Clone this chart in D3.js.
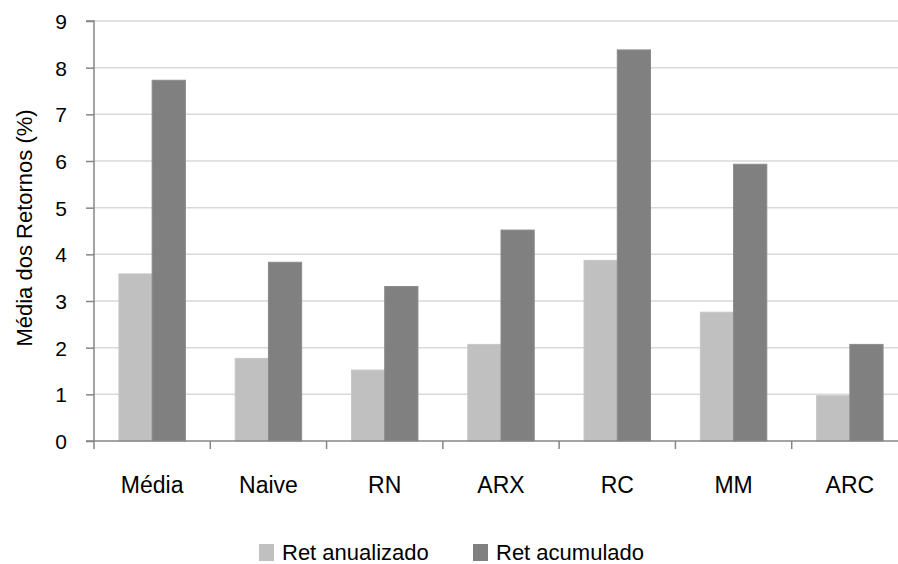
<!DOCTYPE html>
<html>
<head>
<meta charset="utf-8">
<script src="https://cdn.jsdelivr.net/npm/d3@7"></script>
<style>
  html, body { margin: 0; padding: 0; background: #fff; }
  svg { display: block; font-family: "Liberation Sans", Arial, sans-serif; }
</style>
</head>
<body>
<svg id="chart" width="898" height="564"></svg>
<script>
// Mean returns per model, in percent
const categories = ["Média", "Naive", "RN", "ARX", "RC", "MM", "ARC"];
const seriesNames = ["Ret anualizado", "Ret acumulado"];
const retAnualizado = [3.58, 1.77, 1.52, 2.07, 3.87, 2.76, 0.97];
const retAcumulado  = [7.73, 3.83, 3.31, 4.52, 8.38, 5.93, 2.07];
const yTicks = [0, 1, 2, 3, 4, 5, 6, 7, 8, 9];
const colors = ["#c0c0c0", "#808080"];

const svg = d3.select("#chart");
const plotLeft = 94, plotRight = 908, plotTop = 21, plotBottom = 441;
const fontFam = "Liberation Sans, Arial, sans-serif";

const x = d3.scaleBand().domain(categories).range([plotLeft, plotRight]).paddingInner(0).paddingOuter(0);
// Two bars per group with a 150% gap
const barW = x.bandwidth() / 3.5;
const xInner = d3.scaleBand().domain(seriesNames).range([0, barW * 2]);
const y = d3.scaleLinear().domain([0, 9]).range([plotBottom, plotTop]);

const plotG = svg.append("g");

// Horizontal gridlines
plotG.append("g")
  .selectAll("line")
  .data(yTicks.filter(d => d > 0))
  .join("line")
  .attr("x1", plotLeft).attr("x2", 898)
  .attr("y1", d => y(d)).attr("y2", d => y(d))
  .attr("stroke", "#d9d9d9").attr("stroke-width", 1.5);

// Bars
const rows = categories.map((c, i) => ({ cat: c, vals: [retAnualizado[i], retAcumulado[i]] }));
const groups = plotG.append("g")
  .selectAll("g")
  .data(rows)
  .join("g")
  .attr("transform", d => `translate(${x(d.cat) + (x.bandwidth() - barW * 2) / 2},0)`);

groups.selectAll("rect")
  .data(d => d.vals.map((v, k) => ({ name: seriesNames[k], v, k })))
  .join("rect")
  .attr("x", d => xInner(d.name))
  .attr("width", xInner.bandwidth())
  .attr("y", d => y(d.v))
  .attr("height", d => y(0) - y(d.v))
  .attr("fill", d => colors[d.k])
  .attr("stroke", d => d.k === 0 ? "#c6c6c6" : "#8a8a8a")
  .attr("stroke-width", 1);

// Y axis
const yAxis = d3.axisLeft(y).tickValues(yTicks).tickSize(8).tickPadding(19).tickFormat(d3.format("d"));
const gy = svg.append("g").attr("transform", `translate(${plotLeft},0)`).call(yAxis);
gy.select(".domain").attr("stroke", "#868686").attr("stroke-width", 1.5).attr("d", `M-8,${plotTop}H0V${plotBottom}H-8`);
gy.selectAll(".tick line").attr("stroke", "#868686").attr("stroke-width", 1.5);
gy.selectAll(".tick text").attr("font-size", 21).attr("fill", "#000").attr("font-family", fontFam).attr("dy", "0.36em");

// X axis with ticks on group boundaries
const gx = svg.append("g").attr("transform", `translate(0,${plotBottom})`);
gx.append("line").attr("x1", plotLeft).attr("x2", 898).attr("y1", 0).attr("y2", 0)
  .attr("stroke", "#868686").attr("stroke-width", 1.5);
gx.selectAll(".bound")
  .data(categories)
  .join("line")
  .attr("class", "bound")
  .attr("x1", d => x(d)).attr("x2", d => x(d))
  .attr("y1", 0).attr("y2", 8)
  .attr("stroke", "#868686").attr("stroke-width", 1.5);
gx.selectAll(".lbl")
  .data(categories)
  .join("text")
  .attr("class", "lbl")
  .attr("x", d => x(d) + x.bandwidth() / 2)
  .attr("y", 52)
  .attr("text-anchor", "middle")
  .attr("font-size", 23)
  .attr("fill", "#000")
  .text(d => d);

// Y axis title
svg.append("text")
  .attr("transform", `translate(32,${228}) rotate(-90)`)
  .attr("text-anchor", "middle")
  .attr("font-size", 22)
  .attr("fill", "#000")
  .text("Média dos Retornos (%)");

// Legend
const legendItems = [{ name: seriesNames[0], x: 259 }, { name: seriesNames[1], x: 473 }];
const lg = svg.append("g").selectAll("g").data(legendItems).join("g")
  .attr("transform", d => `translate(${d.x},544)`);
lg.append("rect").attr("width", 15).attr("height", 17).attr("fill", (d, i) => colors[i]);
lg.append("text").attr("x", 23).attr("y", 16).attr("font-size", 22).attr("fill", "#000")
  .text(d => d.name);
</script>
</body>
</html>
